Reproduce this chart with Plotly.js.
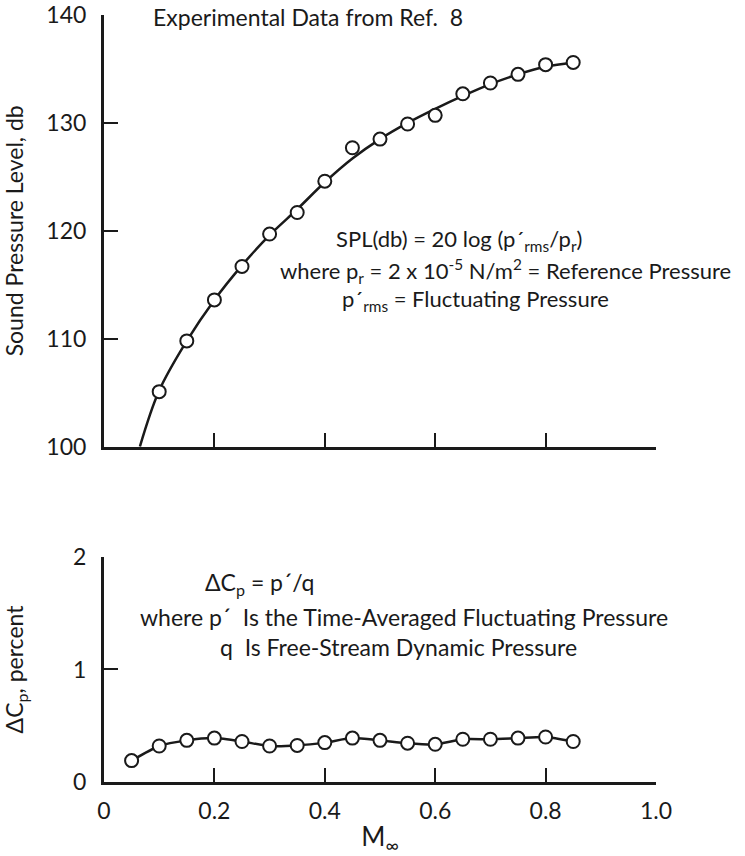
<!DOCTYPE html>
<html>
<head>
<meta charset="utf-8">
<script src="https://cdn.plot.ly/plotly-3.0.1.min.js"></script>
<style>html,body{margin:0;padding:0;background:#fff;}</style>
</head>
<body>
<div id="chart" style="width:745px;height:856px;"></div>
<script>
// ---- Data ----
const machTop = [0.10, 0.15, 0.20, 0.25, 0.30, 0.35, 0.40, 0.45, 0.50, 0.55, 0.60, 0.65, 0.70, 0.75, 0.80, 0.85];
const splMeasured = [105.1, 109.8, 113.6, 116.7, 119.7, 121.7, 124.6, 127.7, 128.5, 129.9, 130.7, 132.7, 133.7, 134.5, 135.4, 135.6];

const machFair = [0.065, 0.10, 0.15, 0.20, 0.25, 0.30, 0.35, 0.40, 0.45, 0.50, 0.55, 0.60, 0.65, 0.70, 0.75, 0.80, 0.85];
const splFair = [100.0, 105.2, 109.8, 113.6, 116.8, 119.6, 122.0, 124.5, 126.7, 128.5, 130.0, 131.3, 132.5, 133.6, 134.5, 135.2, 135.6];

const machBottom = [0.05, 0.10, 0.15, 0.20, 0.25, 0.30, 0.35, 0.40, 0.45, 0.50, 0.55, 0.60, 0.65, 0.70, 0.75, 0.80, 0.85];
const deltaCp = [0.19, 0.32, 0.37, 0.39, 0.36, 0.32, 0.325, 0.35, 0.39, 0.37, 0.345, 0.335, 0.38, 0.38, 0.39, 0.40, 0.36];

const splTicks = [100, 110, 120, 130, 140];
const cpTicks = [0, 1, 2];
const machTicks = [0, 0.2, 0.4, 0.6, 0.8, 1.0];
const machTickText = ['0', '0.2', '0.4', '0.6', '0.8', '1.0'];
const machTicksTop = [0.2, 0.4, 0.6, 0.8, 1.0];

const ink = '#1a1a1a';
const FONT = 'Lato, "Liberation Sans Narrow", Roboto, sans-serif';

const markerStyle = {symbol: 'circle', size: 13, color: '#ffffff', line: {color: ink, width: 2}};

const traces = [
  {x: machFair, y: splFair, xaxis: 'x', yaxis: 'y', mode: 'lines',
   line: {color: ink, width: 2.5, shape: 'spline', smoothing: 1}, hoverinfo: 'skip'},
  {x: machTop, y: splMeasured, xaxis: 'x', yaxis: 'y', mode: 'markers', marker: markerStyle},
  {x: machBottom, y: deltaCp, xaxis: 'x2', yaxis: 'y2', mode: 'lines+markers',
   line: {color: ink, width: 2.5, shape: 'spline', smoothing: 0.6}, marker: markerStyle}
];

const axisCommon = {
  showline: true, linewidth: 3, linecolor: ink, showgrid: false, zeroline: false,
  ticks: 'inside', ticklen: 14, tickwidth: 2, tickcolor: ink,
  tickfont: {family: FONT, size: 23, color: ink}
};

// pixel helpers for annotation placement (plot area: x 104..656, y 15..782)
const px = v => (v - 104) / 552;
const py = v => (782 - v) / 767;

const ann = (text, x, y, size) => ({text: text, xref: 'paper', yref: 'paper', x: px(x), y: py(y),
  xanchor: 'left', yanchor: 'middle', showarrow: false,
  font: {family: FONT, size: size, color: ink}, align: 'left'});

const layout = {
  width: 745, height: 856,
  margin: {l: 104, r: 89, t: 15, b: 74},
  paper_bgcolor: '#ffffff', plot_bgcolor: '#ffffff',
  showlegend: false,
  font: {family: FONT, size: 22, color: ink},
  xaxis: Object.assign({}, axisCommon, {
    anchor: 'y', domain: [0, 1], range: [0, 1],
    tickvals: machTicksTop, showticklabels: false
  }),
  yaxis: Object.assign({}, axisCommon, {
    anchor: 'x', domain: [0.4372, 1], range: [100, 140],
    tickvals: splTicks, ticklabelstandoff: 10,
    title: {text: 'Sound Pressure Level, db', font: {family: FONT, size: 23, color: ink}, standoff: 18}
  }),
  xaxis2: Object.assign({}, axisCommon, {
    anchor: 'y2', domain: [0, 1], range: [0, 1],
    tickvals: machTicks, ticktext: machTickText, ticklabelstandoff: 6,
    title: {text: 'M<sub>∞</sub>', font: {family: FONT, size: 26, color: ink}, standoff: 6}
  }),
  yaxis2: Object.assign({}, axisCommon, {
    anchor: 'x2', domain: [0, 0.2934], range: [0, 2],
    tickvals: cpTicks, ticklabelstandoff: 10,
    title: {text: 'ΔC<sub>p</sub>, percent', font: {family: FONT, size: 23, color: ink}, standoff: 44}
  }),
  annotations: [
    ann('Experimental Data from Ref.  8', 151, 17, 23),
    ann('SPL(db) = 20 log (p´<sub>rms</sub>/p<sub>r</sub>)', 334, 240, 22),
    ann('where p<sub>r</sub> = 2 x 10<sup>-5</sup> N/m<sup>2</sup> = Reference Pressure', 278, 271, 22),
    ann('p´<sub>rms</sub> = Fluctuating Pressure', 340, 300, 22),
    ann('ΔC<sub>p</sub> = p´/q', 203, 583, 23),
    ann('where p´  Is the Time-Averaged Fluctuating Pressure', 138, 617, 23),
    ann('q  Is Free-Stream Dynamic Pressure', 218, 647, 23)
  ]
};

Plotly.newPlot('chart', traces, layout, {displayModeBar: false, staticPlot: true});
</script>
</body>
</html>
